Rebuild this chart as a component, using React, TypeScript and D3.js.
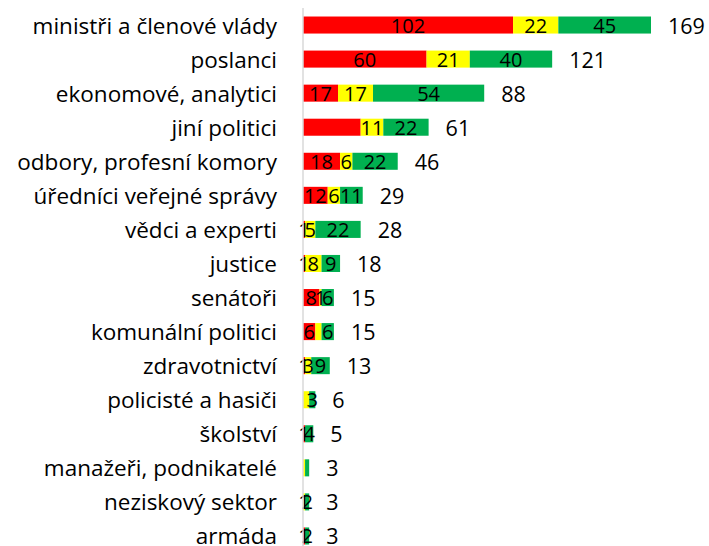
import React from "react";
import * as d3 from "d3";

const categories = [
  "ministři a členové vlády",
  "poslanci",
  "ekonomové, analytici",
  "jiní politici",
  "odbory, profesní komory",
  "úředníci veřejné správy",
  "vědci a experti",
  "justice",
  "senátoři",
  "komunální politici",
  "zdravotnictví",
  "policisté a hasiči",
  "školství",
  "manažeři, podnikatelé",
  "neziskový sektor",
  "armáda",
];
const redValues = [102, 60, 17, 28, 18, 12, 1, 1, 8, 6, 1, 0, 1, 0, 0, 1];
const yellowValues = [22, 21, 17, 11, 6, 6, 5, 8, 1, 3, 3, 3, 0, 1, 1, 0];
const greenValues = [45, 40, 54, 22, 22, 11, 22, 9, 6, 6, 9, 3, 4, 2, 2, 2];
// which segment labels are shown (as in the reference)
const redLabelShown = [true, true, true, false, true, true, true, true, true, true, true, false, true, false, false, true];
const yellowLabelShown = [true, true, true, true, true, true, true, true, true, false, true, false, false, false, true, false];
const greenLabelShown = [true, true, true, true, true, true, true, true, true, true, true, true, true, false, true, true];

const colors = ["#FF0000", "#FFFF00", "#00B050"];

export default function App() {
  const width = 709;
  const height = 546;
  const x0 = 303;
  const x = d3.scaleLinear().domain([0, 169]).range([x0, 651]);
  const y = d3
    .scaleBand<string>()
    .domain(categories)
    .range([8, 553])
    .paddingInner(0.5)
    .paddingOuter(0.25);
  const font = "'Open Sans', sans-serif";
  const series = [redValues, yellowValues, greenValues];
  const shown = [redLabelShown, yellowLabelShown, greenLabelShown];

  return (
    <svg width={width} height={height} style={{ position: "absolute", left: 0, top: 0 }}>
      <rect width={width} height={height} fill="#fff" />
      {categories.map((c, i) => {
        const yc = (y(c) as number) + y.bandwidth() / 2;
        let acc = 0;
        const segs = series.map((s, k) => {
          const start = acc;
          acc += s[i];
          return { k, start, v: s[i] };
        });
        const total = acc;
        return (
          <g key={c}>
            <text
              x={277}
              y={yc}
              textAnchor="end"
              dominantBaseline="central"
              fontFamily={font}
              fontSize={22.5}
              fill="#000"
            >
              {c}
            </text>
            {segs.map((sg) =>
              sg.v > 0 ? (
                <rect
                  key={sg.k}
                  x={x(sg.start)}
                  y={y(c)}
                  width={x(sg.start + sg.v) - x(sg.start)}
                  height={y.bandwidth()}
                  fill={colors[sg.k]}
                />
              ) : null
            )}
            {segs.map((sg) =>
              sg.v > 0 && shown[sg.k][i] ? (
                <text
                  key={"t" + sg.k}
                  x={(x(sg.start) + x(sg.start + sg.v)) / 2}
                  y={yc}
                  textAnchor="middle"
                  dominantBaseline="central"
                  fontFamily={font}
                  fontSize={20}
                  fill="#000"
                >
                  {sg.v}
                </text>
              ) : null
            )}
            <text
              x={x(total) + 17}
              y={yc}
              dominantBaseline="central"
              fontFamily={font}
              fontSize={21.5}
              fill="#000"
            >
              {total}
            </text>
          </g>
        );
      })}
      <line x1={x0} x2={x0} y1={8} y2={height} stroke="#D9D9D9" strokeWidth={1.5} />
    </svg>
  );
}
